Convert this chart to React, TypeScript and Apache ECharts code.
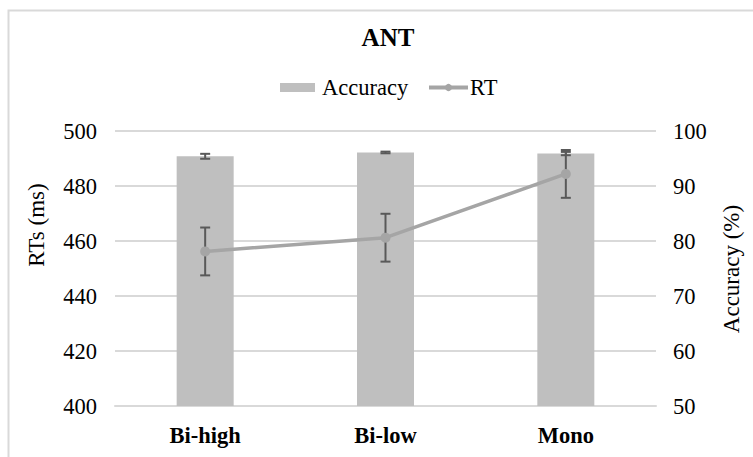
import React, { useEffect, useRef } from "react";
import * as echarts from "echarts";

const categories = ["Bi-high", "Bi-low", "Mono"];
const accuracyValues = [95.4, 96.1, 95.9];
const accuracyErrors = [0.45, 0.15, 0.3];
const rtValues = [456.2, 461.2, 484.4];
const rtErrors = [8.7, 8.7, 8.7];
const rtTicks = { min: 400, max: 500, interval: 20 };
const accTicks = { min: 50, max: 100, interval: 10 };

const FONT = '"Liberation Serif", "Times New Roman", serif';

function errorRender(color: string) {
  return (params: any, api: any) => {
    const x = api.value(0);
    const lo = api.coord([x, api.value(1)]);
    const hi = api.coord([x, api.value(2)]);
    const w = 5;
    const style = { stroke: color, lineWidth: 2 };
    return {
      type: "group",
      children: [
        { type: "line", shape: { x1: hi[0], y1: hi[1], x2: lo[0], y2: lo[1] }, style },
        { type: "line", shape: { x1: hi[0] - w, y1: hi[1], x2: hi[0] + w, y2: hi[1] }, style },
        { type: "line", shape: { x1: lo[0] - w, y1: lo[1], x2: lo[0] + w, y2: lo[1] }, style },
      ],
    };
  };
}

export default function App() {
  const ref = useRef<HTMLDivElement>(null);
  useEffect(() => {
    if (!ref.current) return;
    const chart = echarts.init(ref.current, null, { renderer: "svg" });
    const accErrData = categories.map((_, i) => [i, accuracyValues[i] - accuracyErrors[i], accuracyValues[i] + accuracyErrors[i]]);
    const rtErrData = categories.map((_, i) => [i, rtValues[i] - rtErrors[i], rtValues[i] + rtErrors[i]]);
    chart.setOption({
      animation: false,
      backgroundColor: "#ffffff",
      textStyle: { fontFamily: FONT },
      title: {
        text: "ANT",
        left: 383,
        top: 20,
        textAlign: "center",
        textStyle: { fontFamily: FONT, fontWeight: "bold", fontSize: 25, color: "#000" },
      },
      legend: [
        {
          top: 71,
          left: 275,
          itemWidth: 35,
          itemHeight: 9,
          textStyle: { fontFamily: FONT, fontSize: 22.5, color: "#000", padding: [0, 0, 0, 2] },
          data: [{ name: "Accuracy", icon: "rect" }],
        },
        {
          top: 71,
          left: 422,
          itemWidth: 39,
          itemHeight: 9,
          lineStyle: { width: 4 },
          textStyle: { fontFamily: FONT, fontSize: 22.5, color: "#000", padding: [0, 0, 0, -3] },
          data: [{ name: "RT" }],
        },
      ],
      grid: { left: 115, right: 97, top: 131, bottom: 51, containLabel: false },
      xAxis: {
        type: "category",
        data: categories,
        axisLine: { lineStyle: { color: "#d9d9d9", width: 2 } },
        axisTick: { show: false },
        axisLabel: { fontFamily: FONT, fontWeight: "bold", fontSize: 22.5, color: "#000", margin: 18 },
      },
      yAxis: [
        {
          type: "value",
          min: rtTicks.min,
          max: rtTicks.max,
          interval: rtTicks.interval,
          axisLine: { show: false },
          axisTick: { show: false },
          splitLine: { lineStyle: { color: "#d9d9d9", width: 2 } },
          axisLabel: { fontFamily: FONT, fontSize: 22.5, color: "#000", margin: 18 },
        },
        {
          type: "value",
          min: accTicks.min,
          max: accTicks.max,
          interval: accTicks.interval,
          axisLine: { show: false },
          axisTick: { show: false },
          splitLine: { show: false },
          axisLabel: { fontFamily: FONT, fontSize: 22.5, color: "#000", margin: 17 },
        },
      ],
      graphic: [
        {
          type: "polyline",
          shape: { points: [[8.5, 457], [8.5, 10.5], [753, 10.5]] },
          style: { stroke: "#d9d9d9", lineWidth: 2, fill: "none" },
          silent: true,
        },
        {
          type: "text",
          x: 36,
          y: 225,
          rotation: Math.PI / 2,
          style: { text: "RTs (ms)", fontFamily: FONT, fontSize: 23, fill: "#000", align: "center", verticalAlign: "middle" },
        },
        {
          type: "text",
          x: 731,
          y: 269,
          rotation: Math.PI / 2,
          style: { text: "Accuracy (%)", fontFamily: FONT, fontSize: 23, fill: "#000", align: "center", verticalAlign: "middle" },
        },
      ],
      series: [
        {
          name: "Accuracy",
          type: "bar",
          yAxisIndex: 1,
          data: accuracyValues,
          barWidth: 57,
          itemStyle: { color: "#bfbfbf" },
          z: 2,
        },
        {
          name: "AccErr",
          type: "custom",
          yAxisIndex: 1,
          data: accErrData,
          renderItem: errorRender("#595959"),
          z: 3,
        },
        {
          name: "RTErr",
          type: "custom",
          yAxisIndex: 0,
          data: rtErrData,
          renderItem: errorRender("#595959"),
          z: 4,
        },
        {
          name: "RT",
          type: "line",
          yAxisIndex: 0,
          data: rtValues,
          symbol: "circle",
          symbolSize: 10,
          lineStyle: { color: "#a5a5a5", width: 3.5 },
          itemStyle: { color: "#a5a5a5" },
          z: 5,
        },
      ],
    });
    return () => chart.dispose();
  }, []);
  return <div ref={ref} style={{ position: "absolute", left: 0, top: 0, width: 753, height: 457 }} />;
}
